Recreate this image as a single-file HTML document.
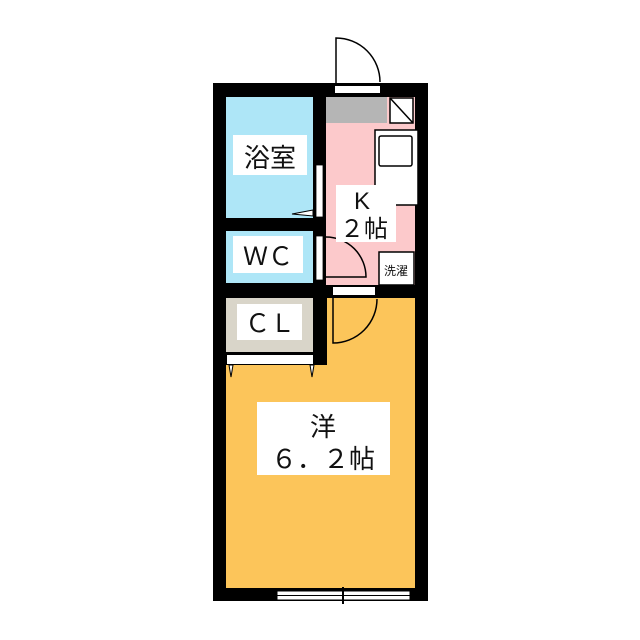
<!DOCTYPE html>
<html><head><meta charset="utf-8"><style>
body{margin:0;background:#fff}
svg{display:block}
text{font-family:"Liberation Sans","Noto Sans CJK JP",sans-serif;fill:#111}
</style></head><body>
<svg width="640" height="640" viewBox="0 0 640 640" xmlns="http://www.w3.org/2000/svg">
<rect width="640" height="640" fill="#fff"/>
<rect x="213" y="83" width="215" height="518" fill="#000"/>
<rect x="226" y="97" width="87" height="121" fill="#aee6f7"/>
<rect x="226" y="231" width="87" height="52" fill="#aee6f7"/>
<rect x="226" y="298" width="87" height="54" fill="#d9d5c9"/>
<rect x="326" y="97" width="89" height="188" fill="#fcc9cb"/>
<rect x="326" y="97" width="61" height="26" fill="#b5b5b5"/>
<path d="M327 298 H415 V588 H226 V365 H327 Z" fill="#fcc55a"/>
<rect x="327" y="285" width="88" height="13" fill="#000"/>
<rect x="227" y="355" width="86" height="9" fill="#fff"/>
<polygon points="229,365 233,365 231,377" fill="#fff" stroke="#000" stroke-width="1"/>
<polygon points="310,365 314,365 312,377" fill="#fff" stroke="#000" stroke-width="1"/>
<rect x="390" y="98" width="23" height="25" fill="#fff" stroke="#000" stroke-width="1.5"/>
<line x1="390" y1="98" x2="413" y2="123" stroke="#000" stroke-width="1.5"/>
<rect x="375" y="130" width="43" height="75" fill="#fff" stroke="#000" stroke-width="1.5"/>
<rect x="379" y="136" width="33" height="30" fill="#fff" stroke="#000" stroke-width="1.5" rx="2"/>
<rect x="379" y="252" width="35" height="33" fill="#fff" stroke="#000" stroke-width="1.5"/>
<text x="396" y="275" font-size="12" text-anchor="middle">洗濯</text>
<rect x="335" y="86" width="45" height="7" fill="#fff"/>
<path d="M336 83 V38 A44 44 0 0 1 380 82" fill="#fff" stroke="#000" stroke-width="1.5"/>
<rect x="316" y="165" width="7" height="52" fill="#fff" stroke="#000" stroke-width="0.8"/>
<polygon points="313,210 292,214 313,216" fill="#fff" stroke="#000" stroke-width="1"/>
<rect x="316" y="236" width="7" height="44" fill="#fff" stroke="#000" stroke-width="0.8"/>
<path d="M326 237 A40 40 0 0 1 366 277 H326" fill="none" stroke="#000" stroke-width="1.5"/>
<rect x="333" y="287" width="42" height="8" fill="#fff"/>
<path d="M333 298 V343 A44 44 0 0 0 377 299" fill="none" stroke="#000" stroke-width="1.5"/>
<rect x="277" y="591" width="133" height="9" fill="#fff" stroke="#000" stroke-width="1"/>
<line x1="277" y1="595.5" x2="410" y2="595.5" stroke="#000" stroke-width="1"/>
<line x1="343" y1="587" x2="343" y2="604" stroke="#000" stroke-width="2"/>
<rect x="233" y="135" width="74" height="40" fill="#fff"/>
<text x="270" y="167" font-size="26" text-anchor="middle">浴室</text>
<rect x="233" y="236" width="70" height="37" fill="#fff"/>
<text x="268" y="265" font-size="25" text-anchor="middle">ＷＣ</text>
<rect x="237" y="304" width="65" height="36" fill="#fff"/>
<text x="270" y="332" font-size="25" text-anchor="middle">ＣＬ</text>
<rect x="336" y="185" width="60" height="57" fill="#fff"/>
<text x="362" y="209" font-size="24" text-anchor="middle">K</text>
<text x="364" y="237" font-size="24" text-anchor="middle">２帖</text>
<rect x="257" y="402" width="133" height="73" fill="#fff"/>
<text x="323" y="436" font-size="26" text-anchor="middle">洋</text>
<text x="323" y="468" font-size="26" text-anchor="middle">６．２帖</text>
</svg>
</body></html>
